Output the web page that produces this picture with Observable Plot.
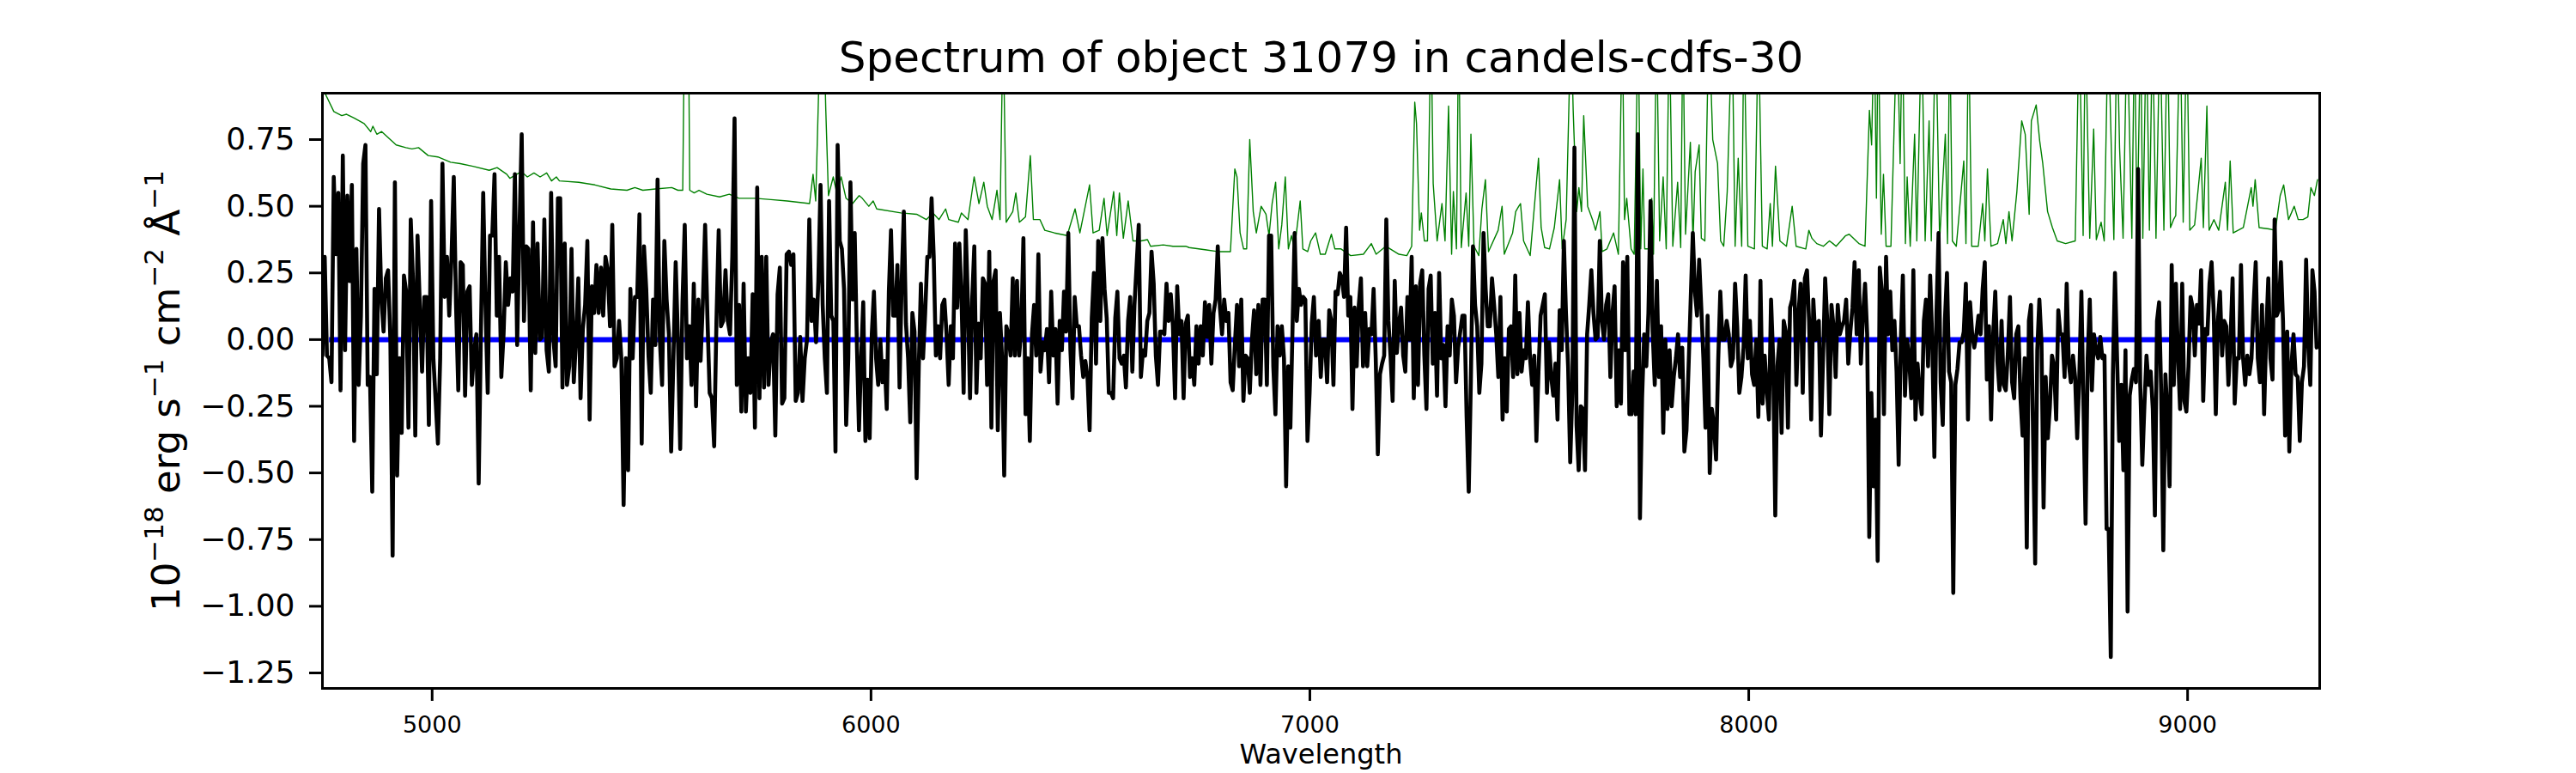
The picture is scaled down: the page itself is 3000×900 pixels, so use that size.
<!DOCTYPE html>
<html>
<head>
<meta charset="utf-8">
<script src="https://cdn.jsdelivr.net/npm/d3@7"></script>
<script src="https://cdn.jsdelivr.net/npm/@observablehq/plot@0.6"></script>
<style>
  html, body { margin: 0; padding: 0; background: #ffffff; }
  #chart svg { display: block; }
</style>
</head>
<body>
<div id="chart"></div>
<script>
// ---------- Text ----------
const chartTitle = "Spectrum of object 31079 in candels-cdfs-30";
const xLabel = "Wavelength";
// [text, isSuperscript]
const yLabelParts = [["10", false], ["\u221218", true], [" erg s", false], ["\u22121", true],
                     [" cm", false], ["\u22122", true], [" \u00C5", false], ["\u22121", true]];
const yLabel = yLabelParts.map(p => p[0]).join("");

// ---------- Axis ticks ----------
const xTicks = [5000, 6000, 7000, 8000, 9000];
const yTicks = [-1.25, -1.0, -0.75, -0.5, -0.25, 0.0, 0.25, 0.5, 0.75];
const xDomain = [4750, 9301];
const yDomain = [-1.308, 0.924];

// ---------- Observed flux (black), four wavelength segments, evenly sampled inside each ----------
const segmentRanges = [[4750, 5880], [5885, 7014], [7020, 8152], [8155, 9294]];
const fluxSeg1 = [
-0.06,0.31,-0.06,-0.07,-0.16,0.61,0.32,0.55,-0.19,0.69,
-0.04,0.54,0.22,0.58,-0.38,0.34,-0.17,0.09,0.66,0.73,
-0.17,-0.14,-0.57,0.19,-0.13,0.49,0.16,0.03,0.23,0.26,
0.00,-0.81,0.59,-0.51,-0.07,-0.35,0.24,0.18,-0.33,0.45,
0.22,-0.36,0.39,0.13,-0.12,0.16,0.16,-0.32,0.52,-0.07,
-0.23,-0.39,-0.07,0.66,0.16,0.31,0.09,0.31,0.61,0.13,
-0.19,0.29,0.28,-0.21,0.18,0.20,-0.17,-0.04,0.02,-0.54,
0.03,0.55,0.13,-0.20,0.39,0.39,0.62,0.09,0.31,-0.14,
0.02,0.29,0.13,0.23,0.18,0.62,-0.02,0.41,0.77,0.07,
0.35,0.34,-0.19,0.44,-0.05,0.36,0.00,0.01,0.45,-0.04,
-0.12,0.55,0.00,-0.10,0.53,0.53,-0.18,0.36,-0.17,-0.10,
0.34,-0.16,0.00,0.23,-0.22,0.04,0.13,0.37,-0.30,0.20,
0.10,0.28,0.10,0.27,0.09,0.31,0.26,0.05,0.43,-0.10,
-0.07,0.07,-0.07,-0.62,-0.07,-0.49,0.19,-0.07,0.16,0.16,
0.47,-0.39,0.35,0.19,-0.06,-0.20,0.15,-0.02,0.60,0.00,
-0.17,0.37,0.15,0.02,-0.42,-0.07,0.29,0.00,-0.41,0.14,
0.43,-0.07,0.05,-0.17,0.21,-0.25,0.15,-0.08,0.14,0.43,
0.09,-0.20,-0.22,-0.40,0.07,0.41,0.05,0.07,0.26,0.07,
0.02,0.31,0.83,-0.17,0.13,-0.27,0.21,-0.27,-0.07,-0.20,
0.17,-0.33,0.57,-0.22,0.31,-0.18,0.31,-0.17,-0.01,0.02,
-0.36,0.17,0.27,-0.24,-0.22,0.32,0.33,0.28,0.32,-0.23,
-0.20,0.01,-0.23,-0.07,0.00,0.45,0.07,0.15,-0.01,0.22
];
const fluxSeg2 = [
0.58,0.13,-0.07,-0.20,0.52,0.09,0.07,-0.42,0.73,0.37,
0.34,0.19,-0.32,-0.07,0.59,0.15,0.40,-0.01,-0.34,-0.07,
0.14,-0.38,-0.15,-0.37,0.02,0.18,-0.07,-0.17,0.00,-0.16,
-0.08,-0.26,0.18,0.41,0.09,0.09,0.28,-0.18,0.22,0.48,
0.06,-0.07,-0.31,0.10,0.03,-0.52,-0.10,0.21,-0.07,0.10,
0.31,0.31,0.53,0.31,-0.06,0.05,-0.07,0.13,0.15,0.02,
-0.17,0.05,-0.07,0.36,0.12,0.36,0.16,-0.20,0.41,0.14,
-0.22,0.15,0.35,-0.20,0.06,-0.07,0.23,0.21,-0.17,0.33,
-0.33,0.22,0.26,-0.34,0.10,-0.07,-0.51,0.05,0.02,-0.06,
0.23,-0.06,0.22,-0.06,0.04,0.38,-0.28,-0.07,-0.38,0.02,
0.13,-0.06,0.32,-0.12,-0.01,-0.04,0.04,-0.16,0.18,-0.06,
0.04,-0.24,0.07,-0.04,0.18,0.03,0.40,-0.04,-0.22,0.16,
0.05,0.05,-0.06,-0.14,-0.08,-0.14,-0.34,0.08,0.25,-0.09,
0.37,0.07,0.38,0.19,0.08,-0.20,-0.20,-0.22,0.08,0.18,
-0.07,-0.09,-0.06,-0.18,0.07,0.16,-0.12,0.13,0.28,0.43,
-0.14,-0.04,-0.06,0.07,0.10,0.33,0.21,-0.06,-0.17,0.03,
0.03,0.02,0.21,0.07,0.17,0.05,-0.22,0.20,0.02,0.07,
-0.22,0.06,0.09,-0.14,-0.07,-0.17,0.05,-0.09,0.05,-0.06,
0.14,0.01,0.13,-0.09,0.10,0.15,0.35,0.12,0.02,0.15,
0.07,0.10,-0.16,-0.19,-0.02,0.13,-0.10,0.15,-0.23,-0.06,
-0.07,-0.20,0.00,0.11,-0.13,0.13,-0.17,0.15,0.15,-0.17,
0.39,0.39,-0.10,-0.28,0.05,-0.06,0.05,-0.07,-0.55,-0.10,
-0.33,0.04,0.40,0.07,0.19,0.13,0.16,0.15,-0.38,-0.20,
0.06,0.16,-0.06
];
const fluxSeg3 = [
0.07,-0.14,0.00,0.00,-0.16,0.11,0.07,-0.17,0.18,0.17,
0.25,0.23,0.16,0.42,0.09,0.16,-0.26,0.12,-0.10,0.13,
0.23,-0.10,0.10,-0.10,0.04,0.02,0.19,-0.07,-0.43,-0.13,
-0.09,-0.06,0.45,0.07,-0.06,-0.23,0.22,-0.05,0.06,0.12,
-0.06,-0.12,0.16,0.00,0.31,-0.22,0.20,-0.17,0.21,0.26,
-0.06,-0.26,0.19,0.24,-0.09,0.10,-0.21,0.25,-0.07,-0.02,
-0.25,0.05,-0.06,0.15,0.09,-0.16,-0.03,0.03,0.09,0.09,
-0.29,-0.57,-0.16,0.35,0.13,0.05,-0.20,-0.09,0.40,0.19,
0.05,0.05,0.23,0.13,0.02,-0.14,0.16,-0.30,-0.07,-0.27,
0.04,0.05,-0.14,0.24,-0.13,0.10,-0.12,-0.04,-0.07,0.14,
-0.07,-0.17,-0.06,-0.38,-0.12,0.09,0.13,0.17,-0.20,-0.01,
-0.14,-0.21,-0.09,-0.30,0.11,-0.04,0.37,0.10,-0.10,-0.46,
-0.20,0.72,-0.32,-0.49,-0.25,-0.26,-0.49,0.02,0.13,0.26,
0.10,0.00,0.01,0.37,0.07,0.00,0.13,0.17,-0.14,0.10,
0.20,-0.25,-0.04,-0.24,0.29,-0.04,0.31,-0.28,-0.28,-0.12,
-0.28,0.77,-0.67,-0.22,0.02,-0.10,0.10,0.52,0.03,-0.17,
0.22,-0.14,0.05,-0.35,0.00,-0.26,-0.04,-0.25,-0.14,-0.07,
0.02,-0.14,-0.03,-0.42,-0.34,-0.10,0.15,0.40,0.18,0.09,
0.30,0.12,-0.07,-0.33,0.09,-0.50,-0.26,-0.32,-0.45,-0.08,
0.18,0.00,0.00,0.07,0.02,-0.10,-0.07,0.21,0.05,-0.20,
-0.14,-0.03,0.24,-0.07,0.07,-0.13,-0.17,0.00,-0.29,0.22,
-0.24,-0.06,-0.19,-0.30,0.15,-0.07,-0.66,-0.10,0.00,-0.35,
0.07,0.03,-0.33,0.12,0.15,0.22,-0.17,0.10,0.21,-0.20,
0.23,0.26,0.07,-0.30,0.15,0.00
];
const fluxSeg4 = [
0.06,0.07,-0.36,-0.07,0.23,0.07,-0.28,0.13,0.05,-0.14,
0.13,0.02,0.05,0.07,0.15,-0.09,0.03,0.12,0.29,0.02,
0.26,-0.09,0.09,0.21,0.02,-0.74,-0.20,-0.55,-0.30,-0.83,
0.27,0.18,-0.28,0.31,0.02,0.18,-0.04,0.07,-0.12,-0.47,
-0.01,0.24,-0.21,0.00,-0.07,-0.22,0.26,-0.30,-0.09,-0.20,
-0.28,0.07,0.15,-0.10,0.24,0.00,-0.44,0.10,0.40,-0.16,
-0.32,0.07,0.25,-0.12,-0.16,-0.95,-0.17,-0.11,-0.01,-0.01,
0.03,0.21,-0.30,0.14,0.02,-0.03,0.02,0.09,0.02,0.19,
0.29,-0.15,0.05,-0.30,0.02,0.18,-0.08,-0.19,0.07,-0.17,
-0.19,-0.05,0.16,-0.16,-0.22,0.02,0.05,-0.22,-0.36,-0.07,
-0.78,0.07,0.13,-0.36,-0.84,-0.04,0.15,-0.01,-0.63,-0.14,
-0.37,-0.25,-0.06,-0.10,-0.30,0.11,0.02,0.02,-0.14,0.21,
-0.09,-0.16,-0.06,-0.14,-0.37,-0.14,0.18,-0.25,-0.69,-0.07,
0.15,-0.19,0.02,-0.04,-0.07,0.01,-0.07,-0.06,-0.71,-0.71,
-1.19,-0.13,0.25,-0.07,-0.38,-0.17,-0.49,-0.04,-1.02,-0.21,
-0.15,-0.11,-0.16,0.64,-0.16,-0.47,-0.25,-0.06,-0.17,-0.12,
-0.26,-0.66,0.07,0.14,-0.20,-0.79,-0.13,-0.28,-0.55,0.28,
-0.17,0.21,-0.06,-0.26,0.21,-0.23,-0.27,-0.10,0.16,0.12,
-0.06,0.13,0.06,0.26,-0.23,0.04,0.02,0.21,0.29,0.10,
-0.28,0.07,0.18,-0.06,0.07,0.05,-0.17,0.00,0.23,-0.24,
-0.07,-0.07,0.28,-0.07,-0.17,-0.06,-0.13,-0.07,0.13,0.29,
-0.07,-0.16,0.13,-0.28,0.02,0.23,-0.07,-0.15,0.45,0.09,
0.11,0.29,0.07,-0.36,0.03,-0.42,-0.10,0.02,-0.13,-0.14,
-0.38,-0.16,-0.10,0.30,-0.02,-0.17,0.26,0.18,-0.03
];

// ---------- Noise / sky spectrum (green): [wavelength, flux]; 1.2 = off the top ----------
const skyNoise = [
[4750,0.93],[4757,0.92],[4776,0.855],[4794,0.84],[4805,0.845],[4823,0.83],[4845,0.81],[4860,0.78],[4865,0.80],[4874,0.77],
[4885,0.78],[4918,0.73],[4940,0.72],[4954,0.715],[4969,0.72],[4991,0.69],[5013,0.685],[5042,0.665],[5064,0.66],[5093,0.65],
[5130,0.635],[5148,0.645],[5170,0.62],[5177,0.605],[5203,0.63],[5217,0.61],[5232,0.625],[5246,0.61],[5261,0.625],[5272,0.595],
[5283,0.61],[5290,0.595],[5334,0.59],[5371,0.58],[5407,0.565],[5444,0.56],[5462,0.57],[5480,0.56],[5509,0.565],[5546,0.57],
[5560,0.56],[5571,0.56],[5575,1.2],[5584,1.2],[5587,0.56],[5597,0.55],[5608,0.56],[5626,0.545],[5655,0.535],[5677,0.545],
[5699,0.53],[5736,0.53],[5772,0.525],[5809,0.52],[5860,0.51],[5868,0.62],[5874,0.52],[5885,1.2],[5892,1.2],[5897,0.86],
[5903,0.54],[5914,0.61],[5922,0.55],[5932,0.61],[5943,0.53],[5958,0.51],[5973,0.54],[5980,0.53],[5995,0.50],[6005,0.52],
[6013,0.49],[6068,0.475],[6104,0.47],[6126,0.45],[6141,0.475],[6155,0.45],[6170,0.49],[6177,0.45],[6199,0.44],[6206,0.475],
[6221,0.45],[6235,0.61],[6246,0.51],[6257,0.59],[6265,0.50],[6276,0.45],[6287,0.56],[6294,0.45],[6301,1.2],[6308,0.44],
[6323,0.48],[6330,0.55],[6338,0.44],[6352,0.46],[6363,0.69],[6370,0.45],[6385,0.45],[6396,0.41],[6418,0.40],[6447,0.39],
[6465,0.49],[6476,0.40],[6498,0.58],[6506,0.40],[6520,0.41],[6531,0.53],[6538,0.39],[6553,0.555],[6560,0.39],[6566,0.55],
[6575,0.38],[6586,0.52],[6597,0.37],[6615,0.37],[6630,0.375],[6637,0.35],[6666,0.355],[6688,0.35],[6717,0.35],[6725,0.345],
[6761,0.337],[6790,0.33],[6819,0.33],[6829,0.64],[6834,0.61],[6841,0.40],[6849,0.34],[6856,0.34],[6863,0.75],[6871,0.48],
[6878,0.40],[6889,0.50],[6900,0.47],[6907,0.39],[6914,0.51],[6922,0.59],[6929,0.34],[6936,0.43],[6944,0.61],[6951,0.34],
[6958,0.39],[6965,0.34],[6978,0.52],[6984,0.34],[6995,0.33],[7002,0.37],[7013,0.40],[7024,0.32],[7035,0.32],[7049,0.395],
[7057,0.34],[7071,0.34],[7093,0.315],[7122,0.32],[7140,0.36],[7151,0.32],[7173,0.35],[7203,0.32],[7221,0.315],[7232,0.35],
[7239,0.89],[7243,0.81],[7250,0.41],[7254,0.475],[7261,0.37],[7268,0.37],[7276,1.2],[7281,0.585],[7290,0.37],[7301,0.51],
[7308,0.37],[7316,0.876],[7323,0.32],[7327,0.555],[7334,0.34],[7339,1.2],[7345,0.345],[7356,0.55],[7362,0.35],[7367,0.77],
[7374,0.35],[7385,0.315],[7392,0.49],[7400,0.60],[7407,0.33],[7429,0.41],[7438,0.50],[7443,0.32],[7462,0.40],[7469,0.48],
[7476,0.50],[7480,0.51],[7487,0.37],[7502,0.315],[7521,0.68],[7527,0.42],[7535,0.345],[7546,0.34],[7557,0.42],[7569,0.60],
[7575,0.34],[7584,0.45],[7595,1.2],[7600,0.86],[7608,0.48],[7613,0.57],[7619,0.48],[7624,0.84],[7633,0.50],[7644,0.45],
[7651,0.41],[7661,0.48],[7666,0.33],[7677,0.34],[7692,0.40],[7703,0.32],[7712,1.2],[7717,0.45],[7722,0.53],[7732,0.34],
[7739,0.32],[7748,1.2],[7754,0.34],[7759,0.64],[7763,0.34],[7772,0.34],[7779,0.53],[7783,0.32],[7790,1.2],[7797,0.37],
[7805,0.61],[7812,0.34],[7819,1.2],[7827,0.35],[7838,0.59],[7845,0.345],[7850,1.2],[7856,0.395],[7867,0.74],[7873,0.37],
[7878,0.63],[7887,0.73],[7892,0.38],[7900,0.37],[7909,1.2],[7918,0.75],[7929,0.66],[7936,0.37],[7943,0.35],[7951,0.555],
[7962,1.2],[7969,0.35],[7976,0.68],[7984,0.35],[7989,1.2],[7998,0.35],[8013,0.34],[8022,1.2],[8031,0.35],[8042,0.34],
[8049,0.51],[8054,0.35],[8061,0.65],[8071,0.37],[8086,0.35],[8099,0.50],[8108,0.35],[8130,0.34],[8137,0.41],[8144,0.38],
[8155,0.36],[8170,0.35],[8184,0.37],[8192,0.36],[8199,0.35],[8221,0.39],[8229,0.395],[8251,0.36],[8265,0.35],[8275,0.86],
[8280,0.73],[8286,1.2],[8291,0.53],[8295,1.2],[8302,0.395],[8307,0.62],[8313,0.35],[8324,0.35],[8338,1.2],[8345,0.66],
[8350,1.2],[8357,0.36],[8361,0.61],[8368,0.35],[8378,0.77],[8383,0.37],[8394,1.2],[8402,0.37],[8411,0.82],[8416,0.37],
[8426,1.2],[8435,0.37],[8448,0.77],[8453,0.36],[8458,1.2],[8464,0.37],[8473,0.35],[8490,0.67],[8495,0.36],[8501,1.2],
[8508,0.35],[8523,0.35],[8533,0.51],[8538,0.37],[8544,0.64],[8552,0.35],[8567,0.36],[8580,0.45],[8586,0.36],[8593,0.48],
[8600,0.37],[8611,0.555],[8622,0.82],[8630,0.77],[8639,0.47],[8644,0.82],[8655,0.88],[8663,0.745],[8670,0.66],[8681,0.48],
[8692,0.42],[8703,0.37],[8722,0.36],[8744,0.37],[8753,1.2],[8762,0.39],[8767,1.2],[8777,0.38],[8786,0.79],[8792,0.375],
[8803,0.44],[8810,0.37],[8819,1.2],[8826,0.73],[8832,0.375],[8839,1.2],[8845,0.72],[8853,0.38],[8862,1.2],[8873,0.38],
[8879,1.2],[8885,0.38],[8893,1.2],[8898,0.38],[8906,1.2],[8913,0.41],[8920,1.2],[8928,0.38],[8937,1.2],[8946,0.41],
[8954,1.2],[8961,0.42],[8968,0.45],[8973,0.465],[8983,1.2],[8990,0.44],[8998,1.2],[9005,0.41],[9016,0.43],[9031,0.68],
[9036,0.42],[9044,0.876],[9049,0.41],[9060,0.45],[9071,0.41],[9086,0.59],[9091,0.41],[9097,0.67],[9104,0.40],[9127,0.42],
[9145,0.57],[9149,0.50],[9154,0.60],[9163,0.42],[9185,0.415],[9200,0.41],[9211,0.54],[9219,0.58],[9230,0.45],[9243,0.50],
[9252,0.45],[9263,0.45],[9274,0.46],[9281,0.57],[9289,0.54],[9296,0.60]
];

// ---------- Model (blue) ----------
const modelWave = [4765, 9263];
const modelFlux = [0, 0];

// ---------- Build tables ----------
const fluxSegments = [fluxSeg1, fluxSeg2, fluxSeg3, fluxSeg4];
const spectrum = [];
fluxSegments.forEach((vals, s) => {
  const [lo, hi] = segmentRanges[s];
  vals.forEach((f, i) => spectrum.push({wavelength: lo + (hi - lo) * i / (vals.length - 1), flux: f}));
});
const sky = skyNoise.map(([w, f]) => ({wavelength: w, flux: f}));
const model = modelWave.map((w, i) => ({wavelength: w, flux: modelFlux[i]}));

const font = "DejaVu Sans, Liberation Sans, sans-serif";
const yLabelSize = 45;

const chart = Plot.plot({
  width: 3000,
  height: 900,
  marginLeft: 375,
  marginRight: 299,
  marginTop: 108,
  marginBottom: 99,
  style: {fontFamily: font, background: "#ffffff", color: "#000000"},
  x: {domain: xDomain},
  y: {domain: yDomain},
  marks: [
    Plot.line(sky, {x: "wavelength", y: "flux", stroke: "#008000", strokeWidth: 1.4, clip: true}),
    Plot.line(model, {x: "wavelength", y: "flux", stroke: "#0000ff", strokeWidth: 6, strokeLinecap: "butt", clip: true}),
    Plot.line(spectrum, {x: "wavelength", y: "flux", stroke: "#000000", strokeWidth: 4.6, clip: true}),
    Plot.frame({stroke: "#000000", strokeWidth: 3}),
    Plot.axisY({ticks: yTicks, tickFormat: d3.format(".2f"), tickSize: 15, tickPadding: 17,
                fontSize: 36, strokeWidth: 3, label: null}),
    Plot.axisX({ticks: xTicks, tickFormat: d => String(d), tickSize: 15, tickPadding: 17,
                fontSize: 27, strokeWidth: 3, label: null}),
    Plot.text([xLabel], {frameAnchor: "bottom", lineAnchor: "bottom", dy: 87, fontSize: 32, fill: "#000000"}),
    Plot.text([yLabel], {frameAnchor: "left", lineAnchor: "bottom", textAnchor: "middle", rotate: -90, dx: -167,
                         fontSize: yLabelSize, fill: "#000000"}),
    Plot.text([chartTitle], {frameAnchor: "top", lineAnchor: "bottom", dy: -25, fontSize: 50, fill: "#000000"})
  ]
});

// Typeset the y label with real superscripts (still plain SVG text)
d3.select(chart).selectAll("text").filter(function () { return this.textContent === yLabel; }).each(function () {
  const t = d3.select(this);
  t.text(null);
  const rise = Math.round(yLabelSize * 0.42);
  let raised = false;
  yLabelParts.forEach(([s, sup]) => {
    const sp = t.append("tspan").text(s);
    if (sup && !raised) { sp.attr("dy", -rise).attr("font-size", Math.round(yLabelSize * 0.7)); raised = true; }
    else if (sup) { sp.attr("font-size", Math.round(yLabelSize * 0.7)); }
    else if (raised) { sp.attr("dy", rise); raised = false; }
  });
});

document.getElementById("chart").appendChild(chart);
</script>
</body>
</html>
